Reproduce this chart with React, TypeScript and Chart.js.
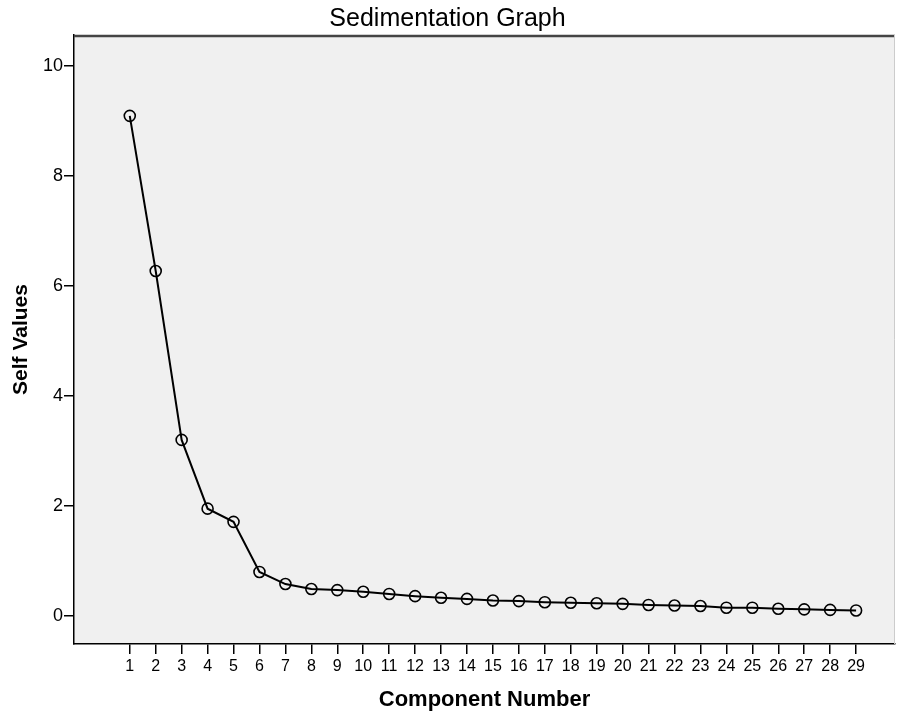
import React, { useEffect, useRef } from "react";
import { Chart, registerables } from "chart.js";

Chart.register(...registerables);

const components: number[] = [1, 2, 3, 4, 5, 6, 7, 8, 9, 10, 11, 12, 13, 14, 15, 16, 17, 18, 19, 20, 21, 22, 23, 24, 25, 26, 27, 28, 29];
const selfValues: number[] = [9.09, 6.27, 3.2, 1.95, 1.71, 0.8, 0.58, 0.49, 0.47, 0.44, 0.4, 0.36, 0.33, 0.31, 0.28, 0.27, 0.25, 0.24, 0.23, 0.22, 0.2, 0.19, 0.18, 0.15, 0.15, 0.13, 0.12, 0.11, 0.1];
const yTickValues: number[] = [0, 2, 4, 6, 8, 10];
const xTickValues: number[] = components;

const FONT = "'Liberation Sans', Arial, sans-serif";

const plotFrame = {
  id: "plotFrame",
  beforeDraw(chart: any) {
    const { ctx, chartArea } = chart;
    if (!chartArea) return;
    ctx.save();
    ctx.fillStyle = "#f0f0f0";
    ctx.fillRect(chartArea.left, chartArea.top, chartArea.right - chartArea.left, chartArea.bottom - chartArea.top);
    ctx.restore();
  },
  afterDraw(chart: any) {
    const { ctx, chartArea } = chart;
    if (!chartArea) return;
    ctx.save();
    ctx.strokeStyle = "#444";
    ctx.lineWidth = 2.5;
    ctx.beginPath();
    ctx.moveTo(chartArea.left, chartArea.top + 1);
    ctx.lineTo(chartArea.right, chartArea.top + 1);
    ctx.stroke();
    ctx.strokeStyle = "#ccc";
    ctx.lineWidth = 1;
    ctx.beginPath();
    ctx.moveTo(chartArea.right - 0.5, chartArea.top);
    ctx.lineTo(chartArea.right - 0.5, chartArea.bottom);
    ctx.stroke();
    ctx.restore();
  },
};

export default function App() {
  const canvasRef = useRef<HTMLCanvasElement | null>(null);

  useEffect(() => {
    if (!canvasRef.current) return;
    const chart = new Chart(canvasRef.current, {
      type: "line",
      data: {
        datasets: [
          {
            label: "Self Values",
            data: components.map((c, i) => ({ x: c, y: selfValues[i] })),
            borderColor: "#000",
            borderWidth: 2,
            pointRadius: 5.5,
            pointBorderWidth: 1.6,
            pointBorderColor: "#000",
            pointBackgroundColor: "rgba(0,0,0,0)",
            tension: 0,
          },
        ],
      },
      options: {
        responsive: false,
        animation: false,
        devicePixelRatio: 1,
        layout: { autoPadding: false, padding: { left: 0, right: 2, top: 0, bottom: 0 } },
        plugins: {
          legend: { display: false },
          tooltip: { enabled: false },
          title: {
            display: true,
            text: "Sedimentation Graph",
            color: "#000",
            font: { family: FONT, size: 25, weight: "normal" },
            padding: { top: 4, bottom: 1 },
          },
        },
        scales: {
          x: {
            type: "linear",
            min: -1.15,
            max: 30.5,
            afterBuildTicks: (scale: any) => {
              scale.ticks = xTickValues.map((v) => ({ value: v }));
            },
            afterFit: (scale: any) => {
              scale.height = 70;
              scale.paddingLeft = 0;
              scale.paddingRight = 0;
            },
            grid: { drawOnChartArea: false, drawTicks: true, tickLength: 10, color: "#000", lineWidth: 1.5 },
            border: { display: true, color: "#000", width: 1.5 },
            ticks: {
              autoSkip: false,
              maxRotation: 0,
              padding: 3,
              color: "#000",
              font: { family: FONT, size: 16 },
              callback: (v: any) => String(v),
            },
            title: {
              display: true,
              text: "Component Number",
              color: "#000",
              font: { family: FONT, size: 22, weight: "bold" },
              padding: { top: 0, bottom: 1 },
            },
          },
          y: {
            type: "linear",
            min: -0.51,
            max: 10.56,
            afterBuildTicks: (scale: any) => {
              scale.ticks = yTickValues.map((v) => ({ value: v }));
            },
            afterFit: (scale: any) => {
              scale.width = 74;
              scale.paddingTop = 0;
              scale.paddingBottom = 0;
            },
            grid: { drawOnChartArea: false, drawTicks: true, tickLength: 10, color: "#000", lineWidth: 1.5 },
            border: { display: true, color: "#000", width: 1.5 },
            ticks: {
              padding: 1,
              color: "#000",
              font: { family: FONT, size: 18 },
              callback: (v: any) => String(v),
            },
            title: {
              display: true,
              text: "Self Values",
              color: "#000",
              font: { family: FONT, size: 21, weight: "bold" },
              padding: { top: 9, bottom: 0 },
            },
          },
        },
      },
      plugins: [plotFrame],
    });
    return () => chart.destroy();
  }, []);

  return (
    <div style={{ position: "absolute", left: 0, top: 0, width: 897, height: 714, background: "#fff" }}>
      <canvas ref={canvasRef} width={897} height={714} style={{ display: "block", width: 897, height: 714 }} />
    </div>
  );
}
